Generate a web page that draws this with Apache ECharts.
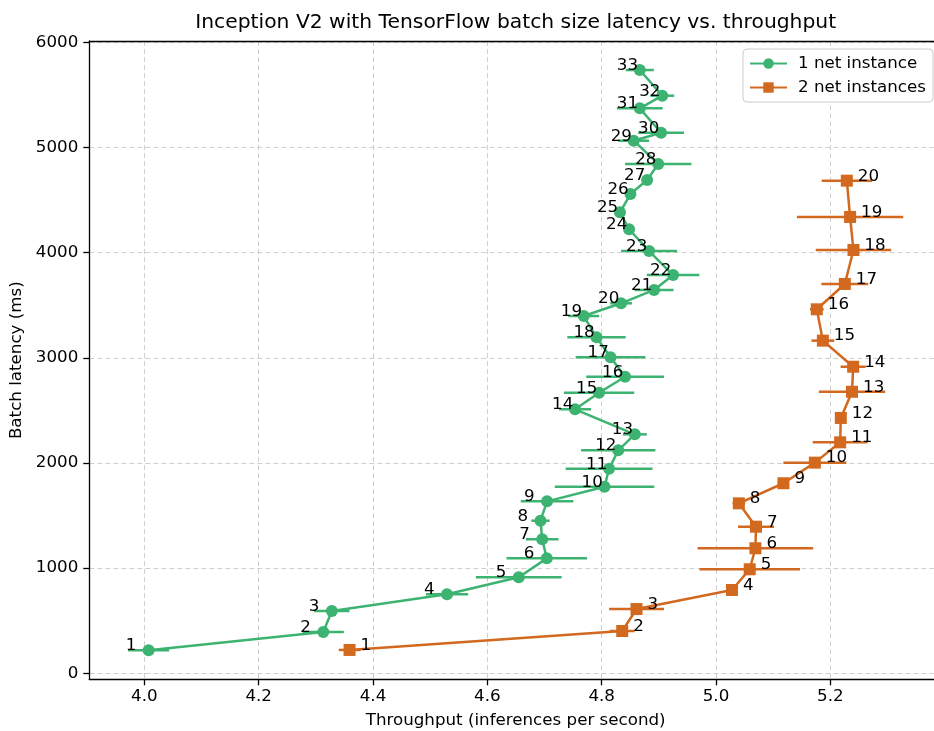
<!DOCTYPE html>
<html>
<head>
<meta charset="utf-8">
<script src="https://cdn.jsdelivr.net/npm/echarts@6/dist/echarts.min.js"></script>
<style>
  html, body { margin: 0; padding: 0; background: #fff; }
  #chart { width: 934px; height: 731px; }
</style>
</head>
<body>
<div id="chart"></div>
<script>
// Inception V2 / TensorFlow: batch latency vs. throughput, one and two net instances.
const batchOne = [1,2,3,4,5,6,7,8,9,10,11,12,13,14,15,16,17,18,19,20,21,22,23,24,25,26,27,28,29,30,31,32,33];
const throughputOne = [4.0075, 4.313, 4.328, 4.5295, 4.655, 4.704, 4.696, 4.693, 4.7045, 4.805, 4.813, 4.829, 4.858, 4.7535, 4.7955, 4.841, 4.8155, 4.791, 4.7687, 4.834, 4.8917, 4.925, 4.883, 4.848, 4.832, 4.8504, 4.8795, 4.899, 4.856, 4.904, 4.8667, 4.906, 4.8667];
const latencyOne = [219, 393, 592, 751, 913, 1093, 1274, 1451, 1635, 1774, 1945, 2120, 2272, 2510, 2668, 2820, 3005, 3195, 3397, 3518, 3645, 3787, 4015, 4222, 4383, 4557, 4690, 4843, 5064, 5140, 5372, 5492, 5736];
const throughputErrOne = [0.036, 0.036, 0.031, 0.037, 0.075, 0.0705, 0.0285, 0.016, 0.046, 0.087, 0.076, 0.065, 0.021, 0.028, 0.0615, 0.068, 0.061, 0.051, 0.027, 0.019, 0.034, 0.046, 0.049, 0.008, 0.008, 0.008, 0.008, 0.058, 0.027, 0.040, 0.040, 0.021, 0.0245];

const batchTwo = [1,2,3,4,5,6,7,8,9,10,11,12,13,14,15,16,17,18,19,20];
const throughputTwo = [4.359, 4.836, 4.861, 5.028, 5.059, 5.069, 5.070, 5.040, 5.118, 5.173, 5.2172, 5.2184, 5.238, 5.240, 5.187, 5.1764, 5.2254, 5.2405, 5.2346, 5.2289];
const latencyTwo = [222, 402, 611, 792, 989, 1189, 1394, 1616, 1807, 2003, 2196, 2428, 2677, 2915, 3163, 3461, 3702, 4025, 4339, 4684];
const throughputErrTwo = [0.019, 0.022, 0.048, 0.006, 0.088, 0.101, 0.0315, 0.011, 0.006, 0.055, 0.048, 0.006, 0.058, 0.022, 0.02, 0.012, 0.041, 0.066, 0.093, 0.044];

const xTicks = [4.0, 4.2, 4.4, 4.6, 4.8, 5.0, 5.2];
const yTicks = [0, 1000, 2000, 3000, 4000, 5000, 6000];

const GREEN = '#3cb371';
const ORANGE = '#d2691e';
const FONT = 'DejaVu Sans';
const SMALL = 16.7;

function points(xs, ys) { return xs.map((x, i) => [x, ys[i]]); }
function errRows(xs, ys, es) { return xs.map((x, i) => [x, ys[i], es[i]]); }

function errorBars(color) {
  return function (params, api) {
    const x = api.value(0), y = api.value(1), e = api.value(2);
    const a = api.coord([x - e, y]);
    const b = api.coord([x + e, y]);
    return {
      type: 'line',
      shape: { x1: a[0], y1: a[1], x2: b[0], y2: b[1] },
      style: { stroke: color, lineWidth: 2.5 }
    };
  };
}

const chart = echarts.init(document.getElementById('chart'), null, { renderer: 'canvas' });

const axisText = { fontFamily: FONT, fontSize: SMALL, color: '#000' };
const gridLine = { show: true, lineStyle: { color: '#cfcfcf', width: 1, type: [5, 3] } };

chart.setOption({
  animation: false,
  backgroundColor: '#fff',
  textStyle: { fontFamily: FONT },
  graphic: [{
    type: 'text',
    x: 515.7, y: 23,
    style: {
      text: 'Inception V2 with TensorFlow batch size latency vs. throughput',
      font: '20.3px "DejaVu Sans"', fill: '#000',
      align: 'center', verticalAlign: 'middle'
    },
    z: 100
  }],
  grid: { left: 89.3, top: 41, right: -8, bottom: 51.7, containLabel: false, outerBoundsMode: 'none' },
  legend: {
    right: 1, top: 49,
    orient: 'vertical',
    itemWidth: 37, itemHeight: 13,
    itemGap: 7,
    padding: [6, 7, 6, 6],
    backgroundColor: '#ffffff',
    borderColor: '#cccccc', borderWidth: 1, borderRadius: 4,
    textStyle: { fontFamily: FONT, fontSize: SMALL, color: '#000', padding: [0, 0, 0, 6] },
    data: ['1 net instance', '2 net instances']
  },
  xAxis: [{
    type: 'value',
    min: 3.9037, max: 5.3954,
    name: 'Throughput (inferences per second)',
    nameLocation: 'middle', nameGap: 33,
    nameTextStyle: axisText,
    axisLine: { show: true, onZero: false, lineStyle: { color: '#000', width: 1.3 } },
    axisTick: { show: true, inside: false, length: 6, lineStyle: { color: '#000', width: 1.3 }, customValues: xTicks },
    axisLabel: { ...axisText, margin: 9, customValues: xTicks, formatter: v => v.toFixed(1) },
    splitLine: gridLine
  }, {
    type: 'value', position: 'top',
    min: 3.9037, max: 5.3954,
    axisLine: { show: true, onZero: false, lineStyle: { color: '#000', width: 1.3 } },
    axisTick: { show: false }, axisLabel: { show: false }, splitLine: { show: false }
  }],
  yAxis: {
    type: 'value',
    min: -57, max: 6012,
    name: 'Batch latency (ms)',
    nameLocation: 'middle', nameGap: 63,
    nameTextStyle: axisText,
    axisLine: { show: true, onZero: false, lineStyle: { color: '#000', width: 1.3 } },
    axisTick: { show: true, inside: false, length: 6, lineStyle: { color: '#000', width: 1.3 }, customValues: yTicks },
    axisLabel: { ...axisText, margin: 11, customValues: yTicks, formatter: v => String(v) },
    splitLine: gridLine
  },
  series: [
    {
      name: 'err-one', type: 'custom', xAxisIndex: 0, yAxisIndex: 0,
      renderItem: errorBars(GREEN),
      data: errRows(throughputOne, latencyOne, throughputErrOne),
      z: 2, silent: true
    },
    {
      name: '1 net instance', type: 'line',
      data: points(throughputOne, latencyOne),
      color: GREEN,
      symbol: 'circle', symbolSize: 12, showAllSymbol: true,
      lineStyle: { width: 2.5, color: GREEN },
      itemStyle: { color: GREEN },
      label: {
        show: true, position: [-17, 1.5], align: 'left', verticalAlign: 'middle',
        fontFamily: FONT, fontSize: SMALL, color: '#000',
        formatter: p => String(batchOne[p.dataIndex])
      },
      z: 3
    },
    {
      name: 'err-two', type: 'custom', xAxisIndex: 0, yAxisIndex: 0,
      renderItem: errorBars(ORANGE),
      data: errRows(throughputTwo, latencyTwo, throughputErrTwo),
      z: 4, silent: true
    },
    {
      name: '2 net instances', type: 'line',
      data: points(throughputTwo, latencyTwo),
      color: ORANGE,
      symbol: 'rect', symbolSize: 12, showAllSymbol: true,
      lineStyle: { width: 2.5, color: ORANGE },
      itemStyle: { color: ORANGE },
      label: {
        show: true, position: [17, 1.5], align: 'left', verticalAlign: 'middle',
        fontFamily: FONT, fontSize: SMALL, color: '#000',
        formatter: p => String(batchTwo[p.dataIndex])
      },
      z: 5
    }
  ]
});
</script>
</body>
</html>
